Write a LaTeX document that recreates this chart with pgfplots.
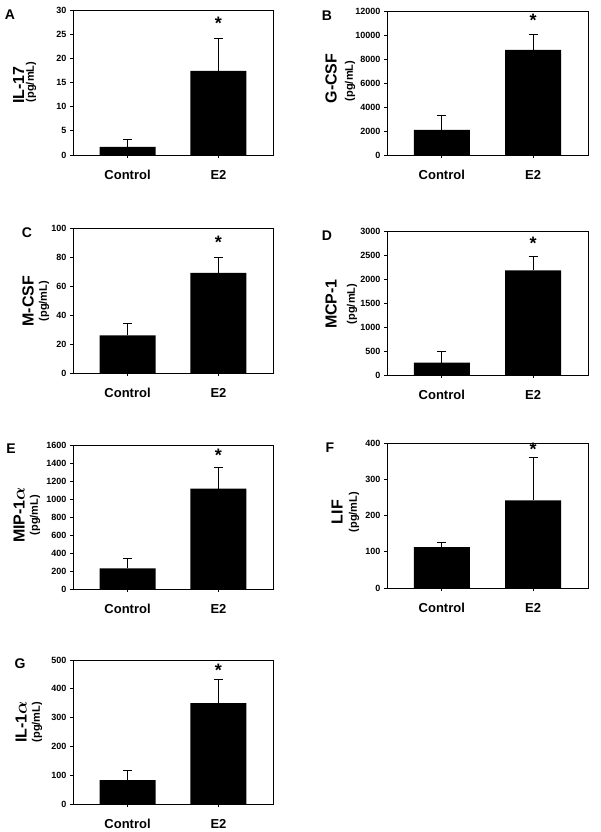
\documentclass[border=0pt]{standalone}
\usepackage{amsmath}
\usepackage{fontspec}
\setmainfont{Liberation Sans}
\usepackage{pgfplots}
\pgfplotsset{compat=1.18}
\newcommand{\fs}[1]{\fontsize{#1}{#1}\selectfont\bfseries}
\pgfplotsset{
  panel/.style={
    scale only axis, width=200pt,
    xmin=-0.6, xmax=1.6, ymin=0,
    xtick={0,1}, xticklabels={Control,E2},
    tick align=outside, major tick length=3pt,
    xtick pos=bottom, ytick pos=left,
    axis line style={line width=0.9pt},
    every tick/.style={black, line width=0.8pt},
    x tick label style={font=\fs{13}, yshift=-9pt},
    y tick label style={font=\fs{9}},
    /pgf/number format/assume math mode=true,
    scaled y ticks=false,
    yticklabel style={/pgf/number format/1000 sep={}},
    clip=false,
  },
  barplot/.style={ybar, fill=black, draw=none, bar width=56pt,
    error bars/.cd, y dir=plus, y explicit,
    error bar style={line width=1pt, black},
    error mark options={rotate=90, line width=1pt, black, mark size=4.5pt}},
}
\newcommand{\sigstar}[1]{\node[font=\fs{18}, anchor=base, yshift=-0.64em] at (axis cs:1,#1) {*};}
\begin{document}
\begin{tikzpicture}[x=1pt,y=1pt]
\useasboundingbox (0,0) rectangle (600,-832);
% A
\begin{axis}[panel, at={(73pt,-10pt)}, anchor=north west, height=145pt, ymax=30, ytick={0,5,...,30}]
\addplot[barplot] coordinates {(0,1.7) +- (0,1.6) (1,17.4) +- (0,6.6)};
\sigstar{27.3}
\end{axis}
% B
\begin{axis}[panel, at={(387pt,-11pt)}, anchor=north west, width=201pt, height=144pt, ymax=12000, ytick={0,2000,...,12000}]
\addplot[barplot] coordinates {(0,2100) +- (0,1200) (1,8750) +- (0,1250)};
\sigstar{11250}
\end{axis}
% C
\begin{axis}[panel, at={(73pt,-228pt)}, anchor=north west, height=145pt, ymax=100, ytick={0,20,...,100}]
\addplot[barplot] coordinates {(0,26) +- (0,8) (1,69) +- (0,11)};
\sigstar{90}
\end{axis}
% D
\begin{axis}[panel, at={(387pt,-231pt)}, anchor=north west, width=201pt, height=144pt, ymax=3000, ytick={0,500,...,3000}]
\addplot[barplot] coordinates {(0,260) +- (0,220) (1,2180) +- (0,290)};
\sigstar{2740}
\end{axis}
% E
\begin{axis}[panel, at={(73pt,-445pt)}, anchor=north west, height=144pt, ymax=1600, ytick={0,200,...,1600}]
\addplot[barplot] coordinates {(0,230) +- (0,110) (1,1115) +- (0,235)};
\sigstar{1489}
\end{axis}
% F
\begin{axis}[panel, at={(387pt,-443pt)}, anchor=north west, width=201pt, height=145pt, ymax=400, ytick={0,100,...,400}]
\addplot[barplot] coordinates {(0,113) +- (0,12) (1,242) +- (0,118)};
\sigstar{382}
\end{axis}
% G
\begin{axis}[panel, at={(73pt,-660pt)}, anchor=north west, height=144pt, ymax=500, ytick={0,100,...,500}]
\addplot[barplot] coordinates {(0,83) +- (0,35) (1,350) +- (0,82)};
\sigstar{465}
\end{axis}
% panel letters
\node[font=\fs{14}] at (10,-15) {A};
\node[font=\fs{14}] at (327,-15.5) {B};
\node[font=\fs{14}] at (27,-232.5) {C};
\node[font=\fs{14}] at (327,-236) {D};
\node[font=\fs{14}] at (11,-449) {E};
\node[font=\fs{14}] at (330,-447.5) {F};
\node[font=\fs{14}] at (20,-664) {G};
% y labels
\node[font=\fs{16}, rotate=90] at (18.5,-85) {IL-17};
\node[font=\fs{11}, rotate=90] at (31,-82) {(pg/mL)};
\node[font=\fs{16}, rotate=90] at (331,-78.5) {G-CSF};
\node[font=\fs{11}, rotate=90] at (350,-81) {(pg/mL)};
\node[font=\fs{16}, rotate=90] at (28,-301) {M-CSF};
\node[font=\fs{11}, rotate=90] at (44,-301) {(pg/mL)};
\node[font=\fs{16}, rotate=90] at (331,-304) {MCP-1};
\node[font=\fs{11}, rotate=90] at (352,-304) {(pg/mL)};
\node[font=\fs{16}, rotate=90] at (19,-515) {MIP-1$\boldsymbol{\alpha}$};
\node[font=\fs{11}, rotate=90] at (35,-515) {(pg/mL)};
\node[font=\fs{16}, rotate=90] at (337,-512) {LIF};
\node[font=\fs{11}, rotate=90] at (354,-512) {(pg/mL)};
\node[font=\fs{16}, rotate=90] at (21,-722) {IL-1$\boldsymbol{\alpha}$};
\node[font=\fs{11}, rotate=90] at (37,-722) {(pg/mL)};
\end{tikzpicture}
\end{document}
